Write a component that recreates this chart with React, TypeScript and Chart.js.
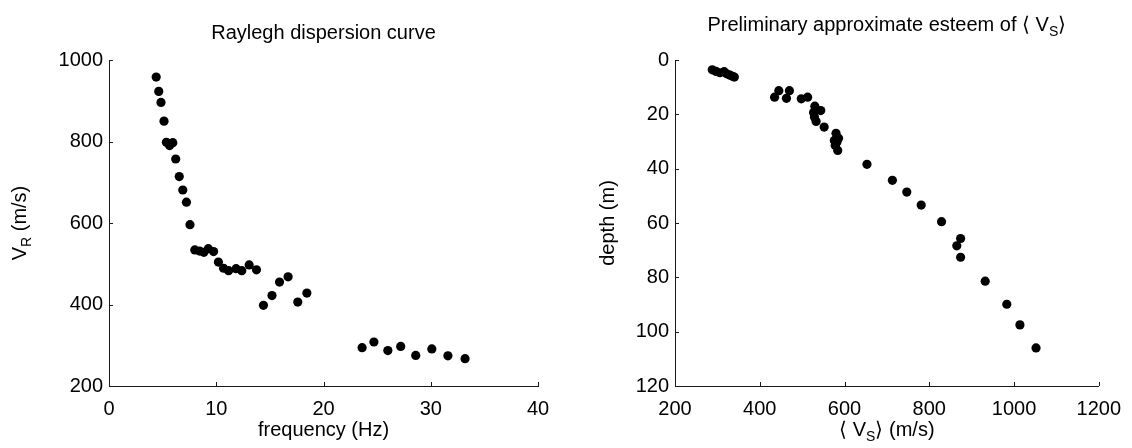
import React, { useEffect, useRef } from 'react';
import { Chart, registerables } from 'chart.js';

Chart.register(...registerables);

// ---- Data: Raylegh dispersion curve ----
const freqHz = [4.40, 4.64, 4.85, 5.13, 5.35, 5.65, 5.95, 6.22, 6.55, 6.88, 7.22, 7.55, 8.0, 8.45, 8.85, 9.26, 9.75, 10.2, 10.68, 11.15, 11.85, 12.38, 13.07, 13.75, 14.4, 15.2, 15.9, 16.7, 17.6, 18.45, 23.6, 24.7, 26.0, 27.2, 28.6, 30.1, 31.6, 33.2];
const vrMs = [958, 923, 896, 850, 798, 790, 797, 757, 714, 681, 651, 596, 534, 531, 528, 537, 530, 504, 489, 483, 488, 483, 497, 485, 398, 422, 455, 468, 406, 428, 294, 308, 287, 297, 275, 291, 274, 267];

// ---- Data: preliminary approximate esteem of <Vs> ----
const vsMs = [288, 297, 306, 316, 322, 330, 336, 340, 435, 445, 463, 470, 498, 513, 530, 544, 527, 529, 533, 552, 580, 586, 576, 582, 578, 584, 653, 713, 747, 781, 829, 874, 865, 874, 932, 983, 1014, 1052];
const depthM = [3.6, 4.2, 4.7, 4.3, 5.1, 5.6, 6.0, 6.3, 13.7, 11.3, 14.1, 11.3, 14.3, 13.7, 17.0, 18.6, 19.3, 21.0, 22.6, 24.7, 27.0, 28.8, 29.6, 30.3, 31.5, 33.3, 38.4, 44.3, 48.6, 53.4, 59.5, 65.7, 68.4, 72.6, 81.4, 89.9, 97.5, 106.0];

// ---- Tick values ----
const freqTicks = [0, 10, 20, 30, 40];
const vrTicks = [200, 400, 600, 800, 1000];
const vsTicks = [200, 400, 600, 800, 1000, 1200];
const depthTicks = [0, 20, 40, 60, 80, 100, 120];

const FONT = "'Liberation Sans', Arial, Helvetica, sans-serif";
const FS = 20;
const W = 566;
const H = 448;
const AXIS_COLOR = '#1a1a1a';

type Part = { t: string; sub?: boolean };

function drawParts(ctx: CanvasRenderingContext2D, parts: Part[], cx: number, cy: number, size: number, rot: number) {
  ctx.save();
  ctx.translate(cx, cy);
  ctx.rotate(rot);
  ctx.textBaseline = 'middle';
  ctx.textAlign = 'left';
  ctx.fillStyle = '#000';
  const mainF = `${size}px ${FONT}`;
  const subF = `${Math.round(size * 0.72)}px ${FONT}`;
  let w = 0;
  for (const p of parts) {
    ctx.font = p.sub ? subF : mainF;
    w += ctx.measureText(p.t).width;
  }
  let x = -w / 2;
  for (const p of parts) {
    ctx.font = p.sub ? subF : mainF;
    ctx.fillText(p.t, x, p.sub ? size * 0.38 : 0);
    x += ctx.measureText(p.t).width;
  }
  ctx.restore();
}

interface PanelSpec {
  xs: number[];
  ys: number[];
  xTicks: number[];
  yTicks: number[];
  yReverse: boolean;
  title: Part[];
  titleY: number;
  xTitle: Part[];
  yTitle: Part[];
  yTitleX: number;
}

function makeConfig(spec: PanelSpec): any {
  const decor = {
    id: 'decor',
    afterDraw(chart: any) {
      const ctx = chart.ctx as CanvasRenderingContext2D;
      const area = chart.chartArea;
      const xs = chart.scales.x;
      const ys = chart.scales.y;
      ctx.save();
      ctx.strokeStyle = AXIS_COLOR;
      ctx.lineWidth = 1;
      ctx.beginPath();
      for (const t of xs.ticks) {
        const px = Math.round(xs.getPixelForValue(t.value)) + 0.5;
        ctx.moveTo(px, area.bottom);
        ctx.lineTo(px, area.bottom - 4);
      }
      for (const t of ys.ticks) {
        const py = Math.round(ys.getPixelForValue(t.value)) + 0.5;
        ctx.moveTo(area.left, py);
        ctx.lineTo(area.left + 4, py);
      }
      ctx.stroke();
      ctx.restore();
      const cx = (area.left + area.right) / 2;
      const cy = (area.top + area.bottom) / 2;
      drawParts(ctx, spec.title, cx, spec.titleY, FS, 0);
      drawParts(ctx, spec.xTitle, cx, 430, FS, 0);
      drawParts(ctx, spec.yTitle, spec.yTitleX, cy, FS, -Math.PI / 2);
    },
  };

  const tickFont = { family: FONT, size: FS };
  const plain = (v: any) => String(v);
  return {
    type: 'scatter',
    data: {
      datasets: [
        {
          data: spec.xs.map((x, i) => ({ x, y: spec.ys[i] })),
          backgroundColor: '#000',
          borderWidth: 0,
          pointRadius: 4.6,
          pointHoverRadius: 4.6,
        },
      ],
    },
    options: {
      responsive: false,
      animation: false,
      devicePixelRatio: 1,
      events: [],
      layout: { padding: { top: 60, right: 28, left: 0, bottom: 0 } },
      plugins: { legend: { display: false }, tooltip: { enabled: false }, title: { display: false } },
      scales: {
        x: {
          type: 'linear',
          min: spec.xTicks[0],
          max: spec.xTicks[spec.xTicks.length - 1],
          afterBuildTicks: (s: any) => {
            s.ticks = spec.xTicks.map((v) => ({ value: v }));
          },
          afterFit: (s: any) => {
            s.height = H - 386;
          },
          grid: { display: false, drawTicks: false },
          border: { display: true, color: AXIS_COLOR, width: 1 },
          ticks: { color: '#000', font: tickFont, padding: 11, maxRotation: 0, autoSkip: false, callback: plain },
        },
        y: {
          type: 'linear',
          reverse: spec.yReverse,
          min: spec.yTicks[0],
          max: spec.yTicks[spec.yTicks.length - 1],
          afterBuildTicks: (s: any) => {
            s.ticks = spec.yTicks.map((v) => ({ value: v }));
          },
          afterFit: (s: any) => {
            s.width = 109;
          },
          grid: { display: false, drawTicks: false },
          border: { display: true, color: AXIS_COLOR, width: 1 },
          ticks: { color: '#000', font: tickFont, padding: 6, autoSkip: false, callback: plain },
        },
      },
    },
    plugins: [decor],
  };
}

function Panel({ spec }: { spec: PanelSpec }) {
  const ref = useRef<HTMLCanvasElement | null>(null);
  useEffect(() => {
    if (!ref.current) return;
    const chart = new Chart(ref.current, makeConfig(spec));
    return () => chart.destroy();
  }, [spec]);
  return <canvas ref={ref} width={W} height={H} style={{ width: W, height: H, display: 'block' }} />;
}

const leftSpec: PanelSpec = {
  xs: freqHz,
  ys: vrMs,
  xTicks: freqTicks,
  yTicks: vrTicks,
  yReverse: false,
  title: [{ t: 'Raylegh dispersion curve' }],
  titleY: 33,
  xTitle: [{ t: 'frequency (Hz)' }],
  yTitle: [{ t: 'V' }, { t: 'R', sub: true }, { t: ' (m/s)' }],
  yTitleX: 20,
};

const rightSpec: PanelSpec = {
  xs: vsMs,
  ys: depthM,
  xTicks: vsTicks,
  yTicks: depthTicks,
  yReverse: true,
  title: [{ t: 'Preliminary approximate esteem of \u27E8 V' }, { t: 'S', sub: true }, { t: '\u27E9' }],
  titleY: 25,
  xTitle: [{ t: '\u27E8 V' }, { t: 'S', sub: true }, { t: '\u27E9 (m/s)' }],
  yTitle: [{ t: 'depth (m)' }],
  yTitleX: 42,
};

export default function App() {
  return (
    <div style={{ position: 'absolute', left: 0, top: 0, width: 1132, height: 448, display: 'flex', background: '#fff' }}>
      <Panel spec={leftSpec} />
      <Panel spec={rightSpec} />
    </div>
  );
}
